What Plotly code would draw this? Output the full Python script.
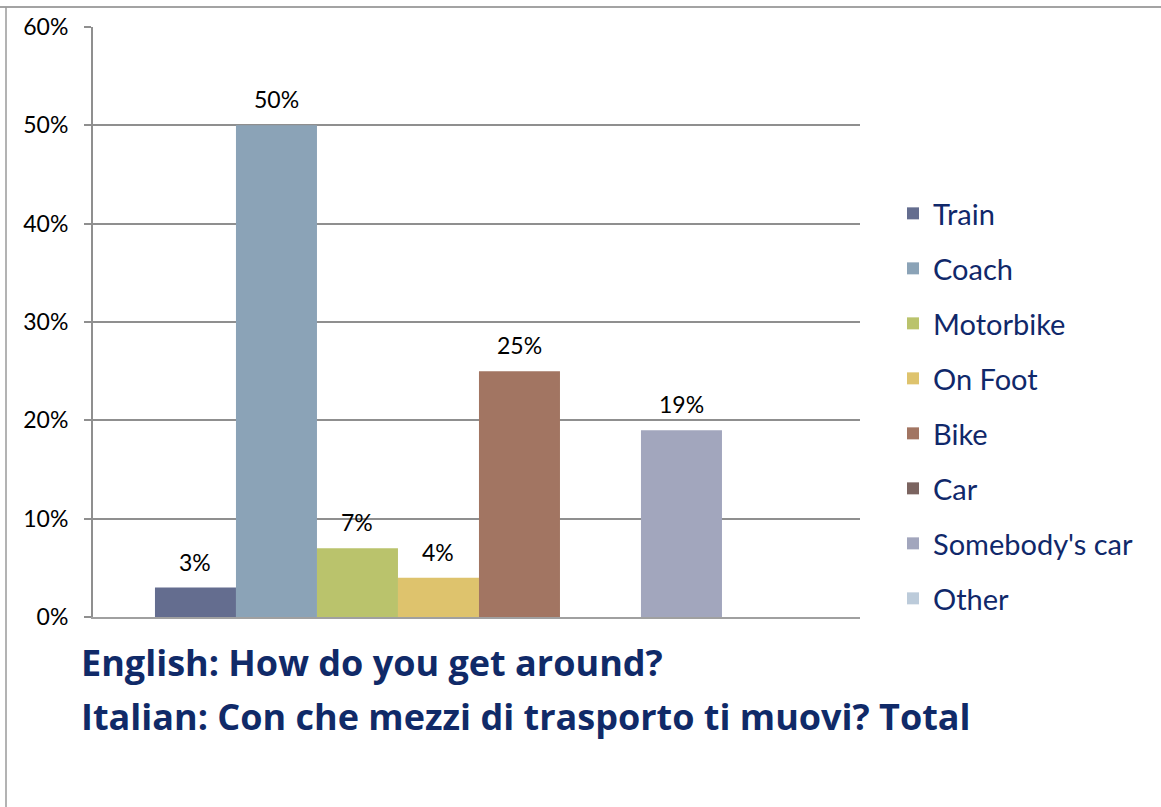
import plotly.graph_objects as go

series = ["Train", "Coach", "Motorbike", "On Foot", "Bike", "Car", "Somebody's car", "Other"]
values = [3, 50, 7, 4, 25, 0, 19, 0]
labels = ["3%", "50%", "7%", "4%", "25%", "", "19%", ""]
colors = ["#646d8f", "#8ba3b7", "#bac36c", "#dec36d", "#a27562", "#7b6460", "#a2a6bd", "#bccbda"]
yticks = [0, 10, 20, 30, 40, 50, 60]
ytick_text = ["0%", "10%", "20%", "30%", "40%", "50%", "60%"]
title_lines = ["English: How do you get around?",
               "Italian: Con che mezzi di trasporto ti muovi? Total"]

FONT = "Lato"
fig = go.Figure()
for i, (name, v, c) in enumerate(zip(series, values, colors)):
    fig.add_trace(go.Bar(x=[i], y=[v], name=name, marker=dict(color=c, line=dict(width=0)),
                         width=1, legendgroup=name, hoverinfo="skip"))
    if labels[i]:
        fig.add_annotation(x=i, y=v, text=labels[i], showarrow=False, yshift=26,
                           font=dict(family=FONT, size=23, color="#000000"))

W, H = 1161, 807
L, R, T, B = 93, 860, 27, 617
pw, ph = R - L, B - T

def px(x):
    return (x - L) / pw

def py(y):
    return (B - y) / ph

for k, line in enumerate(title_lines):
    fig.add_annotation(xref="paper", yref="paper", x=px(79), y=py([662, 716][k]),
                       xanchor="left", yanchor="middle", text="<b>%s</b>" % line,
                       showarrow=False, font=dict(family="Open Sans", size=36, color="#102a68"))

# outer frame lines (top and left)
fig.add_shape(type="line", xref="paper", yref="paper", x0=px(0), x1=px(W), y0=py(7), y1=py(7),
              line=dict(color="#858585", width=1.5))
fig.add_shape(type="line", xref="paper", yref="paper", x0=px(6), x1=px(6), y0=py(7), y1=py(H),
              line=dict(color="#9a9a9a", width=1.5))

fig.update_layout(
    width=W, height=H,
    margin=dict(l=L, r=W - R, t=T, b=H - B),
    paper_bgcolor="white", plot_bgcolor="white",
    barmode="overlay",
    showlegend=True,
    legend=dict(x=px(893), y=py(188), xanchor="left", yanchor="top",
                font=dict(family=FONT, size=29, color="#10286a"),
                tracegroupgap=14.3, itemclick=False, itemdoubleclick=False),
    xaxis=dict(range=[-1.265, 8.204], showticklabels=False, showgrid=False, zeroline=False,
               showline=True, linecolor="#a0a0a0", linewidth=2, ticks="", fixedrange=True),
    yaxis=dict(range=[0, 60], tickvals=yticks, ticktext=ytick_text, showgrid=True,
               gridcolor="#8f8f8f", gridwidth=1.5, zeroline=False, showline=True,
               linecolor="#8f8f8f", linewidth=2, ticks="outside", ticklen=7, tickwidth=1.5,
               tickcolor="#8f8f8f", ticklabelstandoff=11,
               tickfont=dict(family=FONT, size=23, color="#000000"), fixedrange=True),
)

fig.write_html("out.html", config={"displayModeBar": False},
               post_script="document.body.style.margin='0px';")
